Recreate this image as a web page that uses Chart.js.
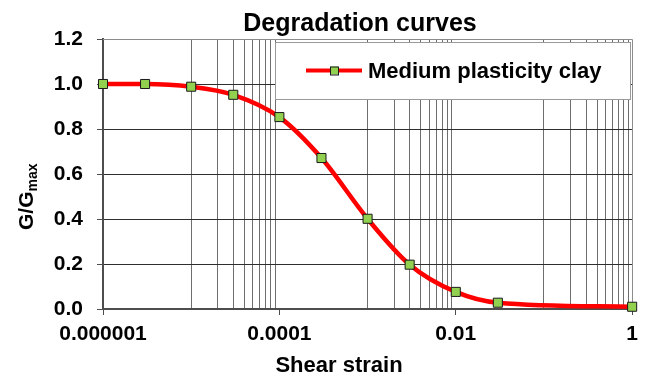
<!DOCTYPE html>
<html>
<head>
<meta charset="utf-8">
<title>Degradation curves</title>
<script src="https://cdn.jsdelivr.net/npm/chart.js@4.4.1/dist/chart.umd.min.js"></script>
<style>
  body { margin: 0; background: #fff; }
  #wrap { width: 645px; height: 376px; }
</style>
</head>
<body>
<div id="wrap"><canvas id="degradationChart" width="645" height="376"></canvas></div>
<script>
// shear strain vs G/Gmax for the clay curve
const strain = [0.000001, 0.000003, 0.00001, 0.00003, 0.0001, 0.0003, 0.001, 0.003, 0.01, 0.03, 1];
const gRatio = [1.0, 1.0, 0.988, 0.952, 0.853, 0.671, 0.401, 0.197, 0.076, 0.028, 0.010];
const seriesName = "Medium plasticity clay";

// labelled x ticks every two decades, minor lines only in the decades between
const xMajorTicks = [0.000001, 0.0001, 0.01, 1];
const xTickLabels = ["0.000001", "0.0001", "0.01", "1"];
const xMinorDecades = [0.00001, 0.001, 0.1];
const yTickLabels = ["0.0", "0.2", "0.4", "0.6", "0.8", "1.0", "1.2"];

const FONT = '"Liberation Sans", Arial, Helvetica, sans-serif';
const CLEAR = 'rgba(0,0,0,0)';

const xMinorTicks = [];
xMinorDecades.forEach(d => {
    for (let k = 1; k <= 9; k++) xMinorTicks.push(k * d);
});

const isMajor = v => xMajorTicks.indexOf(v) >= 0;

// grey frame on the top and right of the plot area
const plotFrame = {
    id: 'plotFrame',
    beforeDatasetsDraw(chart) {
        const ctx = chart.ctx;
        const a = chart.chartArea;
        ctx.save();
        ctx.strokeStyle = '#8c8c8c';
        ctx.lineWidth = 1;
        ctx.beginPath();
        ctx.moveTo(a.left, Math.round(a.top) + 0.5);
        ctx.lineTo(Math.round(a.right) + 0.5, Math.round(a.top) + 0.5);
        ctx.lineTo(Math.round(a.right) + 0.5, a.bottom);
        ctx.stroke();
        ctx.restore();
    }
};

// title, axis titles and the boxed legend
const decorations = {
    id: 'decorations',
    afterDraw(chart) {
        const ctx = chart.ctx;
        const a = chart.chartArea;
        const ds = chart.data.datasets[0];
        ctx.save();
        ctx.fillStyle = '#000';

        // chart title
        ctx.font = 'bold 25px ' + FONT;
        ctx.textAlign = 'center';
        ctx.textBaseline = 'alphabetic';
        ctx.fillText('Degradation curves', 360, 31);

        // x axis title
        ctx.font = 'bold 22px ' + FONT;
        ctx.fillText('Shear strain', 339, 372);

        // y axis title, rotated, with subscript
        ctx.save();
        ctx.translate(33, 230);
        ctx.rotate(-Math.PI / 2);
        ctx.textAlign = 'left';
        ctx.font = 'bold 21px ' + FONT;
        ctx.fillText('G/G', 0, 0);
        const w = ctx.measureText('G/G').width;
        ctx.font = 'bold 14px ' + FONT;
        ctx.fillText('max', w, 4);
        ctx.restore();

        // legend box
        const lx = 275.5, ly = Math.round(a.top) + 3.5, lw = 355, lh = 57;
        ctx.fillStyle = '#fff';
        ctx.fillRect(lx, ly, lw, lh);
        ctx.strokeStyle = '#999999';
        ctx.lineWidth = 1;
        ctx.strokeRect(lx, ly, lw, lh);

        const cy = ly + 28;
        ctx.strokeStyle = ds.borderColor;
        ctx.lineWidth = 4;
        ctx.beginPath();
        ctx.moveTo(306, cy);
        ctx.lineTo(362, cy);
        ctx.stroke();
        ctx.fillStyle = ds.pointBackgroundColor;
        ctx.strokeStyle = ds.pointBorderColor;
        ctx.lineWidth = 1;
        ctx.fillRect(330, cy - 4, 8, 8);
        ctx.strokeRect(330.5, cy - 3.5, 8, 8);

        ctx.fillStyle = '#000';
        ctx.font = 'bold 22px ' + FONT;
        ctx.textAlign = 'left';
        ctx.fillText(ds.label, 368, cy + 7.5);
        ctx.restore();
    }
};

const ctx = document.getElementById('degradationChart').getContext('2d');

new Chart(ctx, {
    type: 'line',
    data: {
        datasets: [{
            label: seriesName,
            data: strain.map((s, i) => ({ x: s, y: gRatio[i] })),
            borderColor: '#ff0000',
            borderWidth: 4.5,
            cubicInterpolationMode: 'monotone',
            pointStyle: 'rect',
            pointRadius: 6.4,
            pointBackgroundColor: '#92d050',
            pointBorderColor: '#1a1a1a',
            pointBorderWidth: 1,
            clip: false
        }]
    },
    options: {
        responsive: false,
        animation: false,
        devicePixelRatio: 1,
        layout: { padding: { left: 0, top: 39, right: 10, bottom: 0 } },
        plugins: {
            legend: { display: false },
            title: { display: false },
            tooltip: { enabled: false }
        },
        scales: {
            x: {
                type: 'logarithmic',
                min: 0.000001,
                max: 1,
                afterBuildTicks(scale) {
                    scale.ticks = xMajorTicks.concat(xMinorTicks)
                        .sort((p, q) => p - q)
                        .map(v => ({ value: v }));
                },
                afterFit(scale) { scale.height = 67; },
                ticks: {
                    autoSkip: false,
                    maxRotation: 0,
                    minRotation: 0,
                    padding: 7,
                    color: '#000',
                    font: { family: FONT, size: 21, weight: 'bold' },
                    callback(value) {
                        const i = xMajorTicks.indexOf(value);
                        return i >= 0 ? xTickLabels[i] : '';
                    }
                },
                grid: {
                    lineWidth: 1,
                    tickLength: 6,
                    color: c => (c.tick && !isMajor(c.tick.value)) ? '#6e6e6e' : CLEAR,
                    tickColor: c => (c.tick && isMajor(c.tick.value)) ? '#4d4d4d' : CLEAR
                },
                border: { color: '#4d4d4d', width: 2 }
            },
            y: {
                type: 'linear',
                min: 0,
                max: 1.2,
                afterFit(scale) { scale.width = 103; },
                ticks: {
                    stepSize: 0.2,
                    padding: 14,
                    color: '#000',
                    font: { family: FONT, size: 21, weight: 'bold' },
                    callback: (value, index) => yTickLabels[index]
                },
                grid: {
                    lineWidth: 1,
                    tickLength: 6,
                    color: c => (c.tick && c.tick.value > 0.01 && c.tick.value < 1.19) ? '#2e2e2e' : CLEAR,
                    tickColor: '#4d4d4d'
                },
                border: { color: '#4d4d4d', width: 2 }
            }
        }
    },
    plugins: [plotFrame, decorations]
});
</script>
</body>
</html>
